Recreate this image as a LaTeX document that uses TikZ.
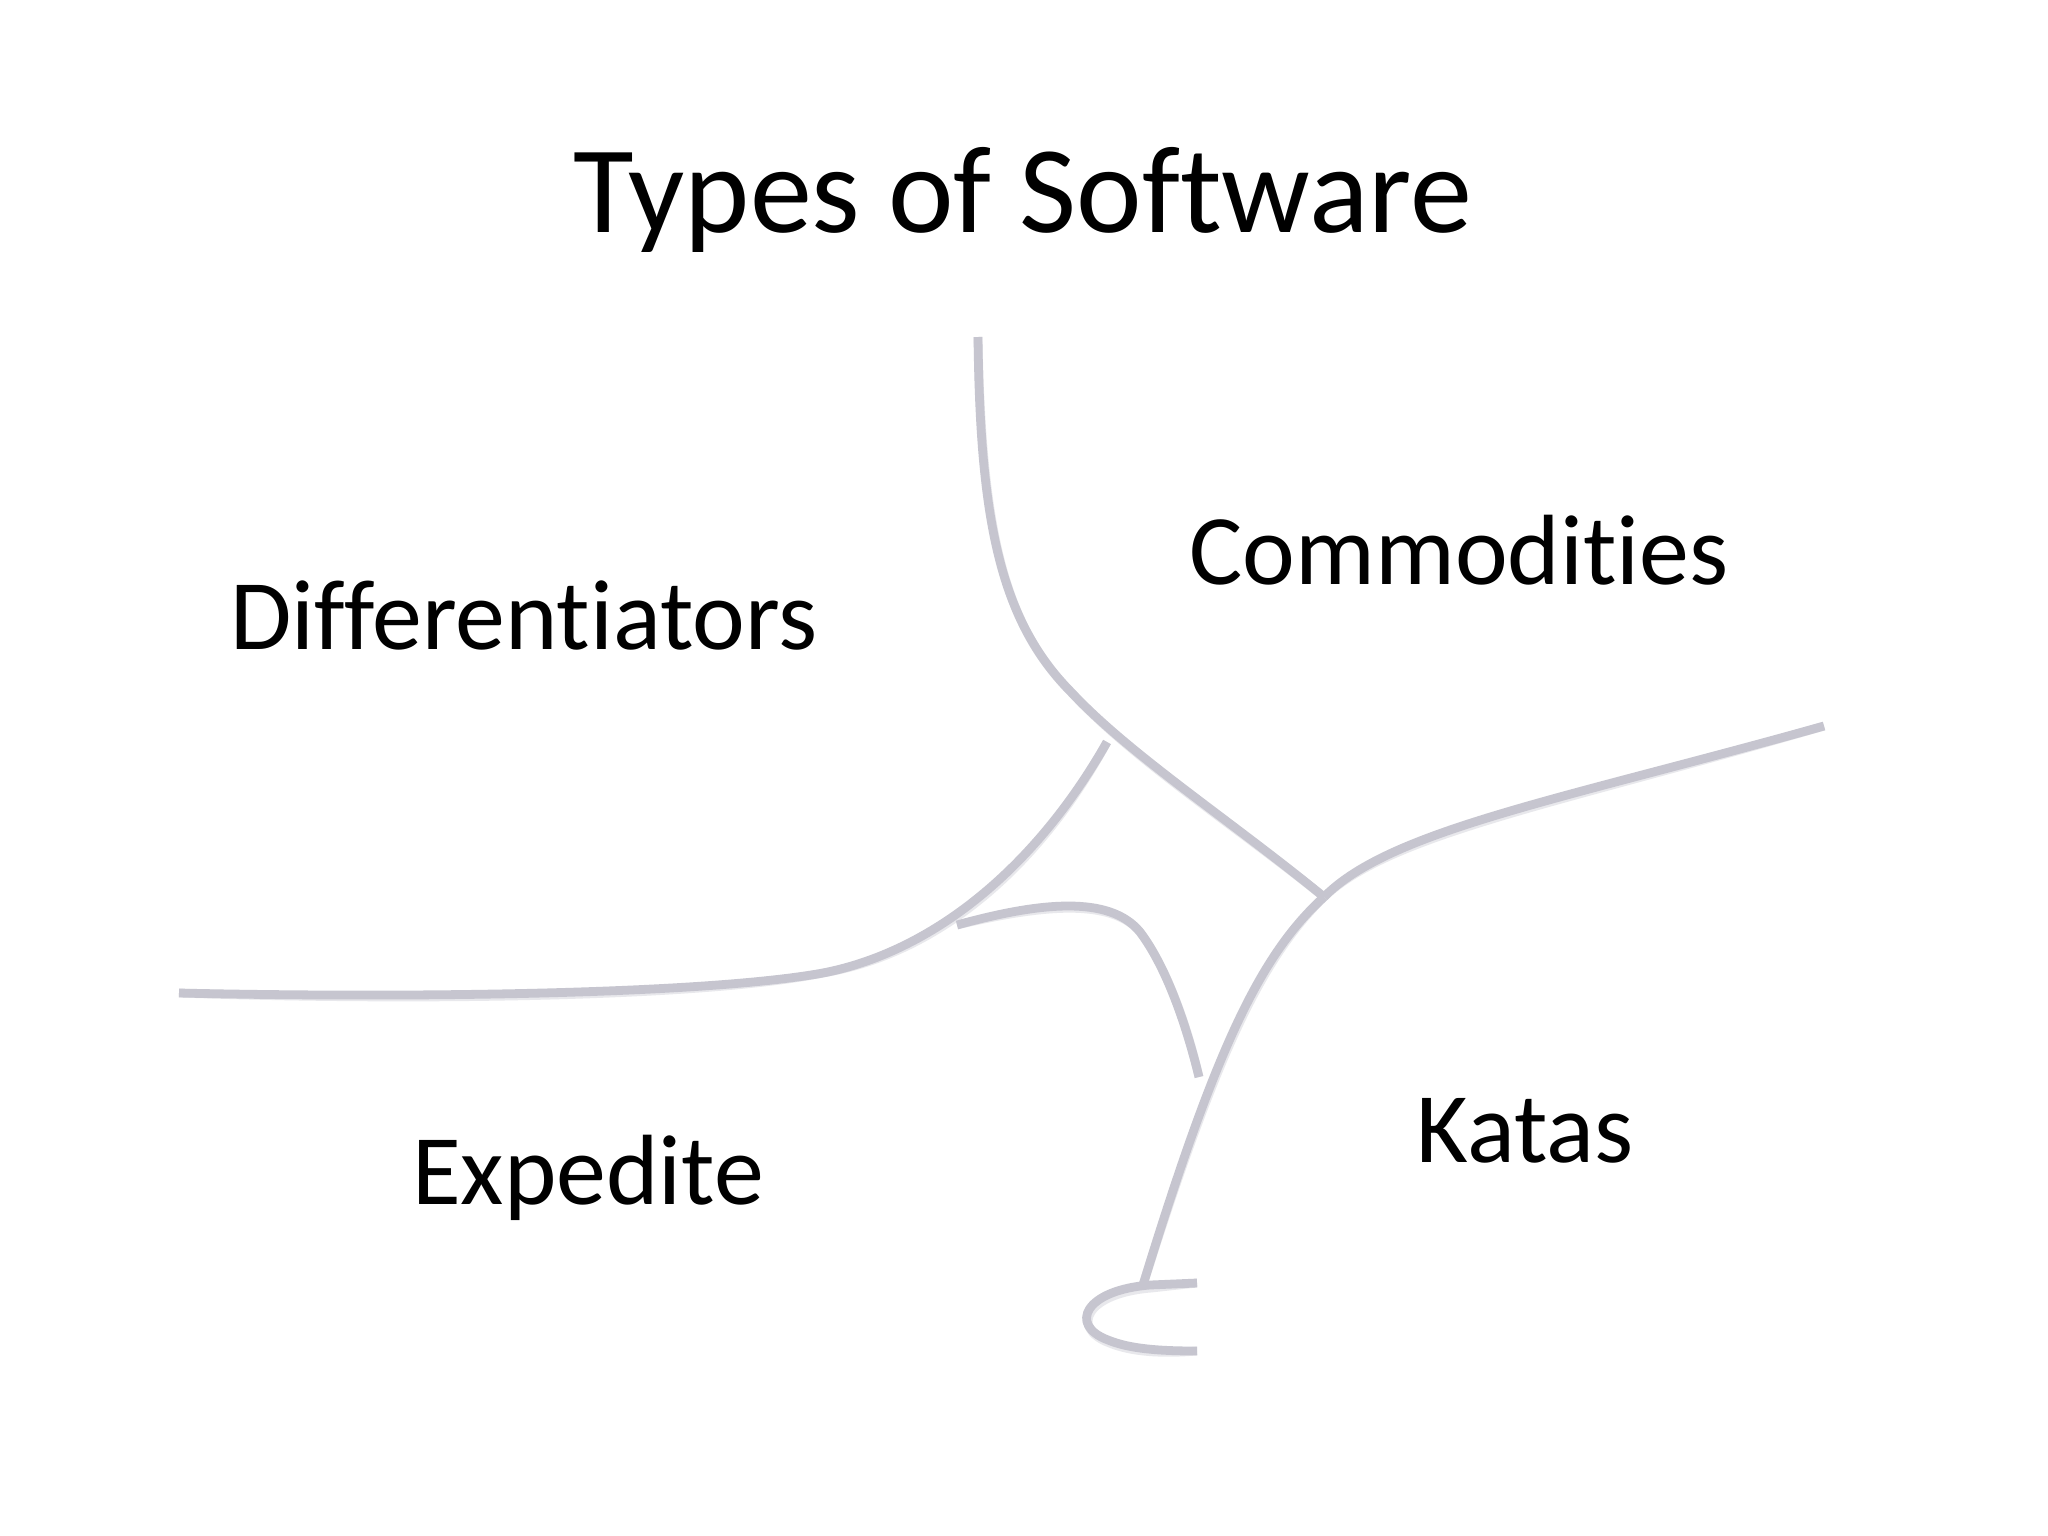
\documentclass[tikz,border=0pt]{standalone}
\usepackage{fontspec}
\setmainfont[Ligatures={NoCommon,NoRare},RawFeature={-liga;-clig;-dlig}]{Carlito}
\definecolor{pen}{RGB}{198,197,207}
\definecolor{penshadow}{RGB}{232,232,236}
\tikzset{
  stroke/.style={draw=pen, line width=2.5pt, line cap=butt, line join=round},
  shade/.style={draw=penshadow, line width=2.5pt, line cap=butt, line join=round, shift={(1.5,3)}},
  label/.style={anchor=base, inner sep=0pt, font=\fontsize{28.4}{34}\selectfont},
  titletext/.style={anchor=base, inner sep=0pt, font=\fontsize{35.3}{42}\selectfont}
}
\begin{document}
\begin{tikzpicture}[x=0.01cm, y=-0.01cm]
\useasboundingbox[fill=white] (0,0) rectangle (2048,1536);

\node[titletext] (title) at (1023,232) {Types of Software};
\node[label] (comm) at (1459,584) {Commodities};
\node[label] (diff) at (524,649) {Differentiators};
\node[label] (exp) at (588,1204) {Expedite};
\node[label] (kat) at (1525,1162) {Katas};

\coordinate (atop) at (978,337);
\coordinate (aknee) at (1071,692);
\coordinate (jtop) at (1107,742);
\coordinate (jright) at (1324,897);
\coordinate (rend) at (1824,726);
\coordinate (lstart) at (179,993);
\coordinate (lknee) at (823,973);
\coordinate (jleft) at (957,925);
\coordinate (mtop) at (1140,932);
\coordinate (jlow) at (1199,1077);
\coordinate (hook) at (1143,1285);
\coordinate (hooktop) at (1197,1283);
\coordinate (hookend) at (1197,1351);

\foreach \s in {shade,stroke}{
  % top curve into the right junction
  \draw[\s] (atop) .. controls (980,520) and (1000,620) .. (aknee)
                   .. controls (1130,755) and (1230,820) .. (jright);
  % right branch
  \draw[\s] (jright) .. controls (1390,830) and (1560,800) .. (rend);
  % left horizontal branch up to the top curve
  \draw[\s] (lstart) .. controls (400,998) and (700,995) .. (lknee)
                     .. controls (940,950) and (1040,860) .. (jtop);
  % middle loop
  \draw[\s] (jleft) .. controls (1040,902) and (1110,895) .. (mtop)
                    .. controls (1165,965) and (1185,1020) .. (jlow);
  % lower branch down to the hook
  \draw[\s] (jright) .. controls (1260,955) and (1215,1050) .. (hook);
  % hook
  \draw[\s] (hooktop) -- (1150,1285) .. controls (1085,1290) and (1068,1325) .. (1108,1340)
                      .. controls (1130,1349) and (1160,1351) .. (hookend);
}
\end{tikzpicture}
\end{document}
